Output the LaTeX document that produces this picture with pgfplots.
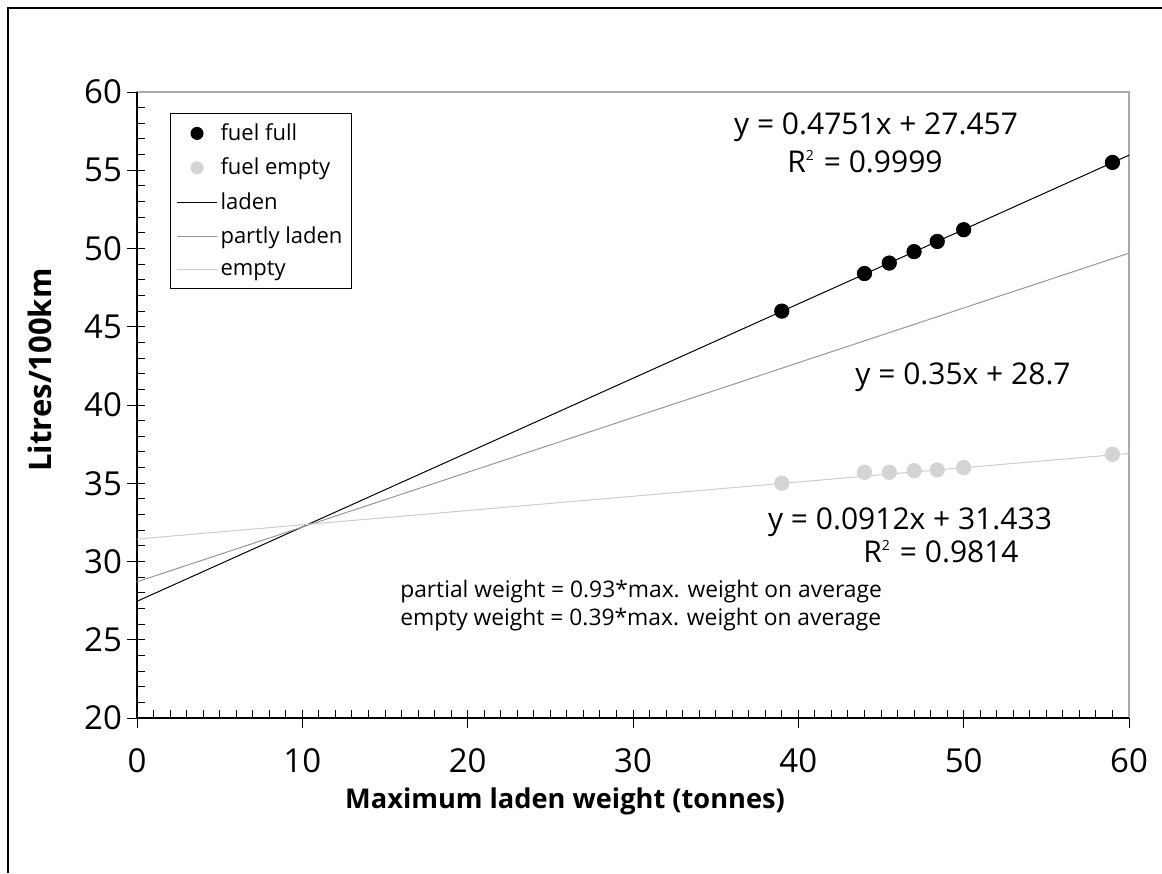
\documentclass[border=0pt]{standalone}
\usepackage{fontspec}
\setmainfont{Open Sans}
\usepackage{pgfplots}
\pgfplotsset{compat=1.18}
\definecolor{ptgray}{RGB}{212,212,212}
\definecolor{partgray}{RGB}{150,150,150}
\definecolor{emptygray}{RGB}{205,205,205}
\definecolor{bordergray}{RGB}{170,170,170}
\pgfplotsset{
  lineleg/.style={legend image code/.code={\draw[##1] (0pt,0pt) -- (20pt,0pt);}},
  markleg/.style={legend image code/.code={\draw[##1] plot coordinates {(10pt,0pt)};}},
}
\newcommand{\Rsq}{R\raisebox{0.75ex}{\fontsize{7}{7}\selectfont 2}\,\,}
\begin{document}
\begin{tikzpicture}
\useasboundingbox (0,0) rectangle (581pt,436.5pt);
\draw[line width=1pt] (4pt,0pt) -- (4pt,432.5pt) -- (581pt,432.5pt);
\begin{axis}[
  at={(68.5pt,77.5pt)}, anchor=south west,
  scale only axis, width=496pt, height=313pt,
  xmin=0, xmax=60, ymin=20, ymax=60,
  xtick={0,10,...,60}, ytick={20,25,...,60},
  minor x tick num=9, minor y tick num=4,
  xtick pos=bottom, ytick pos=left,
  tick align=inside,
  major tick length=4pt, minor tick length=4pt,
  tick style={black, line width=0.5pt},
  extra x ticks={0,10,...,60}, extra x tick labels={},
  extra x tick style={tick align=outside, major tick length=5pt},
  extra y ticks={20,25,...,60}, extra y tick labels={},
  extra y tick style={tick align=outside, major tick length=5pt},
  axis line style={bordergray, line width=0.6pt},
  /pgf/number format/assume math mode=true,
  ticklabel style={font=\fontsize{16.5}{18}\selectfont},
  xticklabel style={yshift=-12pt},
  yticklabel style={xshift=-4pt},
  xlabel={\textbf{Maximum laden weight (tonnes)}},
  ylabel={\textbf{Litres/100km}},
  x label style={font=\fontsize{13.6}{15}\selectfont, at={(axis description cs:0.4315,-0.134)}, anchor=center},
  y label style={font=\fontsize{15.5}{17}\selectfont, at={(axis description cs:-0.098,0.556)}, anchor=center},
  legend style={at={(axis description cs:0.0333,0.9665)}, anchor=north west,
    draw=black, line width=0.5pt, font=\fontsize{11}{13}\selectfont,
    inner xsep=3pt, inner ysep=3.5pt, row sep=4.3pt,
    nodes={inner xsep=1.5pt, inner ysep=1.5pt}},
  legend cell align=left,
  lineleg,
  clip=false,
]
\draw[black, line width=0.6pt] (rel axis cs:0,1) -- (rel axis cs:0,0) -- (rel axis cs:1,0);
% lines
\addplot[black, line width=0.5pt, forget plot] coordinates {(0,27.457) (10,32.208) (20,36.959) (30,41.710) (39,45.986) (50,51.212) (60,55.963)};
\addplot[partgray, line width=0.5pt, forget plot] coordinates {(0,28.7) (10,32.2) (25,37.45) (39,42.35) (47,45.15) (50,46.2) (60,49.7)};
\addplot[emptygray, line width=0.5pt, forget plot] coordinates {(0,31.433) (10,32.345) (25,33.713) (39,34.99) (50,35.993) (60,36.905)};
% points
\addplot[only marks, mark=*, mark size=3.6pt, black, forget plot] coordinates {(39,46.0) (44,48.4) (45.5,49.07) (47,49.8) (48.4,50.45) (50,51.2) (59,55.5)};
\addplot[only marks, mark=*, mark size=3.6pt, ptgray, mark options={draw=ptgray, fill=ptgray}, forget plot] coordinates {(39,35.0) (44,35.7) (45.5,35.7) (47,35.8) (48.4,35.85) (50,36.0) (59,36.85)};
% legend
\addlegendimage{only marks, mark=*, mark size=3pt, black, markleg}
\addlegendentry{fuel full}
\addlegendimage{only marks, mark=*, mark size=3pt, ptgray, markleg}
\addlegendentry{fuel empty}
\addlegendimage{black, line width=0.5pt}
\addlegendentry{laden}
\addlegendimage{partgray, line width=0.5pt}
\addlegendentry{partly laden}
\addlegendimage{emptygray, line width=0.5pt}
\addlegendentry{empty}
% annotations
\node[font=\fontsize{15}{17}\selectfont] at (axis cs:44.7,57.76) {y = 0.4751x + 27.457};
\node[font=\fontsize{15}{17}\selectfont] at (axis cs:44.03,55.53) {\Rsq= 0.9999};
\node[font=\fontsize{15}{17}\selectfont] at (axis cs:49.96,41.79) {y = 0.35x + 28.7};
\node[font=\fontsize{15}{17}\selectfont] at (axis cs:46.75,32.52) {y = 0.0912x + 31.433};
\node[font=\fontsize{15}{17}\selectfont] at (axis cs:48.63,30.61) {\Rsq= 0.9814};
\node[font=\fontsize{11.4}{13}\selectfont, anchor=west, inner sep=0pt] at (axis cs:15.9,28.05) {partial weight = 0.93*max. weight on average};
\node[font=\fontsize{11.4}{13}\selectfont, anchor=west, inner sep=0pt] at (axis cs:15.9,26.26) {empty weight = 0.39*max. weight on average};
\end{axis}
\end{tikzpicture}
\end{document}
